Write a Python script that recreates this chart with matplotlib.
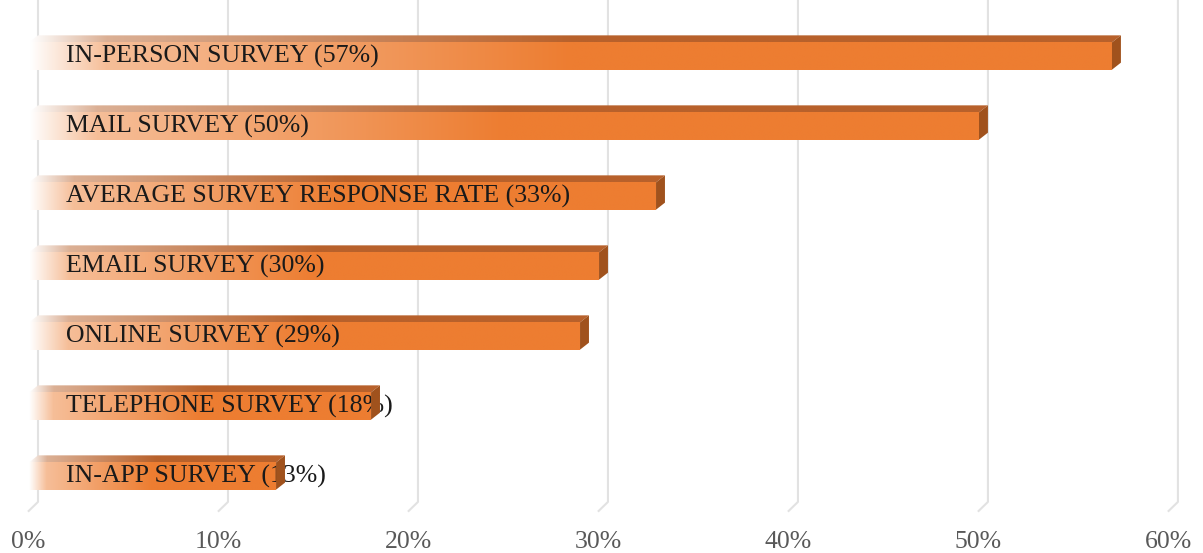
import numpy as np
import matplotlib.pyplot as plt
from matplotlib.colors import to_rgb
from matplotlib.patches import Polygon

# survey response rates, top to bottom
labels = [
    "IN-PERSON SURVEY",
    "MAIL SURVEY",
    "AVERAGE SURVEY RESPONSE RATE",
    "EMAIL SURVEY",
    "ONLINE SURVEY",
    "TELEPHONE SURVEY",
    "IN-APP SURVEY",
]
rates = [57, 50, 33, 30, 29, 18, 13]
ticks = [0, 10, 20, 30, 40, 50, 60]

ORANGE = "#ED7D31"
TOP = "#B8612B"
SIDE = "#A0521D"
GRID = "#E2E2E2"

plt.rcParams["font.family"] = ["Liberation Serif", "DejaVu Serif"]

fig = plt.figure(figsize=(12.03, 5.53), dpi=100)
ax = fig.add_axes([0, 0, 1, 1])
ax.set_xlim(-2.0, 61.32)
ax.set_ylim(7.1, -0.8)
ax.axis("off")

depth_x = 0.47   # oblique depth offset in x (percent units)
depth_y = 0.10   # oblique depth offset in y (category units)
h = 0.39


def ramp(base, n=400, knee=0.07, full=0.5):
    # white -> light tint -> full colour along the bar length
    base = np.array(to_rgb(base))
    tint = 1 - (1 - base) * 0.5
    t = np.linspace(0, 1, n)
    out = np.empty((n, 3))
    for i, v in enumerate(t):
        if v < knee:
            f = v / knee
            out[i] = (1 - f) * np.ones(3) + f * tint
        elif v < full:
            f = (v - knee) / (full - knee)
            out[i] = (1 - f) * tint + f * base
        else:
            out[i] = base
    return out[None, :, :]


# back-wall gridlines with the floor edge
for t in ticks:
    ax.plot([t, t, t - 0.53], [-0.8, 6.37, 6.51], color=GRID, lw=1.5,
            zorder=0, solid_capstyle="butt")
    ax.text(t - 0.5, 6.95, f"{t}%", ha="center", va="center",
            fontsize=18.5, color="#595959")

y = np.arange(len(rates))
bars = ax.barh(y, rates, left=-depth_x, height=h, color="none",
               edgecolor="none", zorder=2)

for bar, val, name in zip(bars, rates, labels):
    x0 = bar.get_x()
    x1 = x0 + bar.get_width()
    yt = bar.get_y()
    yb = yt + bar.get_height()

    img = ax.imshow(ramp(ORANGE), extent=[x0, x1, yb, yt], aspect="auto",
                    interpolation="bilinear", zorder=2)
    img.set_clip_path(bar)

    top = Polygon([(x0, yt), (x1, yt), (x1 + depth_x, yt - depth_y),
                   (x0 + depth_x, yt - depth_y)], closed=True,
                  facecolor="none", edgecolor="none")
    ax.add_patch(top)
    timg = ax.imshow(ramp(TOP), extent=[x0, x1 + depth_x, yt, yt - depth_y],
                     aspect="auto", interpolation="bilinear", zorder=4)
    timg.set_clip_path(top)

    side = Polygon([(x1, yt), (x1 + depth_x, yt - depth_y),
                    (x1 + depth_x, yb - depth_y), (x1, yb)], closed=True,
                   facecolor=SIDE, edgecolor="none", zorder=4)
    ax.add_patch(side)

    ax.text(1.47, (yt + yb) / 2 + 0.01, f"{name} ({val}%)", ha="left",
            va="center", fontsize=18.6, color="#1A1A1A", zorder=3)

fig.savefig("out.png", dpi=100)
